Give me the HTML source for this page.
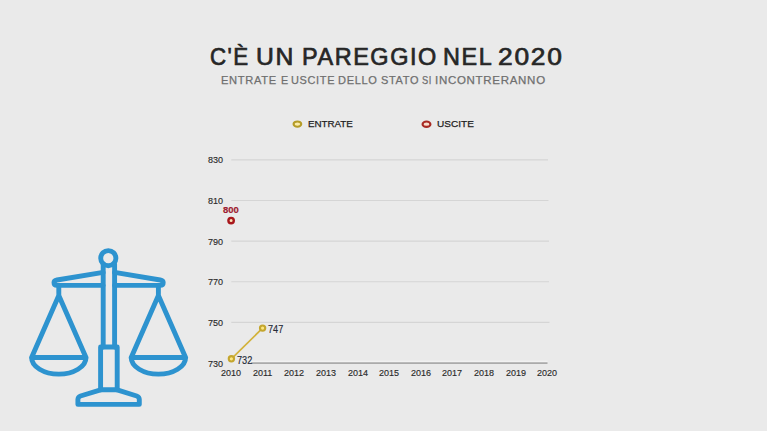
<!DOCTYPE html>
<html><head><meta charset="utf-8">
<style>
html,body{margin:0;padding:0;}
body{width:767px;height:431px;overflow:hidden;background:#eaeaea;position:relative;font-family:"Liberation Sans",sans-serif;}
.t{position:absolute;white-space:nowrap;line-height:1;transform-origin:0 0;}
svg{position:absolute;left:0;top:0;}
</style></head><body>
<svg width="767" height="431" viewBox="0 0 767 431">
  <g stroke="#d5d5d5" stroke-width="1.15">
    <line x1="231.3" y1="159.9" x2="548" y2="159.9"/>
    <line x1="231.3" y1="200.5" x2="548.5" y2="200.5"/>
    <line x1="231.3" y1="241.1" x2="549" y2="241.1"/>
    <line x1="231.3" y1="281.7" x2="549" y2="281.7"/>
    <line x1="231.3" y1="322.4" x2="549.5" y2="322.4"/>
  </g>
  <line x1="251" y1="361.2" x2="547.5" y2="361.2" stroke="#f5f5f5" stroke-width="1"/>
  <line x1="251" y1="363.1" x2="547.5" y2="363.1" stroke="#ababab" stroke-width="1.7"/>
  <line x1="231.4" y1="358.8" x2="262.6" y2="328.1" stroke="#d2b23a" stroke-width="1.7"/>
  <circle cx="231.4" cy="358.8" r="2.65" fill="#fce680" stroke="#c4a62e" stroke-width="2.1"/>
  <circle cx="262.6" cy="328.1" r="2.65" fill="#fce680" stroke="#c4a62e" stroke-width="2.1"/>
  <circle cx="231.1" cy="220.6" r="2.7" fill="#f8e4b8" stroke="#a8171c" stroke-width="2.4"/>
  <ellipse cx="297.4" cy="124.1" rx="3.85" ry="2.65" fill="#fbeca8" stroke="#b59c28" stroke-width="2.1"/>
  <ellipse cx="426.5" cy="124.2" rx="3.95" ry="2.65" fill="#f7dccb" stroke="#a82a24" stroke-width="2.1"/>
  <g fill="none" stroke="#2d93cf" stroke-width="4.9" stroke-linejoin="round" stroke-linecap="round">
    <circle cx="108.3" cy="258.2" r="7.6"/>
    <path d="M103.2,264 V347 M114.6,264 V347"/>
    <path d="M100.6,347 H117.2 V389.8 H100.6 Z"/>
    <path d="M100.6,389.8 L80.5,396 Q77.9,396.9 77.9,399.6 V404.4 H139.3 V399.6 Q139.3,396.9 136.7,396 L117.2,389.8"/>
    <path d="M103.1,272.3 L57,280 Q54,280.6 54,282.6 Q54,285.4 57,285.4 H103.1"/>
    <path d="M114.6,272.3 L160.2,280 Q163.2,280.6 163.2,282.6 Q163.2,285.4 160.2,285.4 H114.6"/>
    <path d="M58.8,285.4 V295.5 L31.6,357.5 M58.8,295.5 L86,357.5 M31.6,357.5 H86 M31.6,357.5 A27.2 16.6 0 0 0 86,357.5"/>
    <path d="M158.4,285.4 V295.5 L131.2,357.5 M158.4,295.5 L185.6,357.5 M131.2,357.5 H185.6 M131.2,357.5 A27.2 16.6 0 0 0 185.6,357.5"/>
  </g>
</svg>
<div class="t" style="left:209.67px;top:44.80px;transform:scaleX(0.9300);font-size:24px;letter-spacing:1.6px;-webkit-text-stroke:0.7px #262626;color:#262626">C'È</div>
<div class="t" style="left:256.17px;top:44.80px;transform:scaleX(1.0294);font-size:24px;letter-spacing:1.6px;-webkit-text-stroke:0.7px #262626;color:#262626">UN</div>
<div class="t" style="left:301.65px;top:44.80px;transform:scaleX(0.9770);font-size:24px;letter-spacing:1.6px;-webkit-text-stroke:0.7px #262626;color:#262626">PAREGGIO</div>
<div class="t" style="left:443.05px;top:44.80px;transform:scaleX(0.9750);font-size:24px;letter-spacing:1.6px;-webkit-text-stroke:0.7px #262626;color:#262626">NEL</div>
<div class="t" style="left:498.30px;top:44.80px;transform:scaleX(1.0982);font-size:24px;letter-spacing:1.6px;-webkit-text-stroke:0.7px #262626;color:#262626">2020</div>
<div class="t" style="left:221.23px;top:74.70px;transform:scaleX(0.9679);font-size:11.5px;letter-spacing:0.7px;-webkit-text-stroke:0.25px #6f6f6f;color:#6f6f6f">ENTRATE</div>
<div class="t" style="left:280.87px;top:74.70px;transform:scaleX(0.9333);font-size:11.5px;letter-spacing:0.7px;-webkit-text-stroke:0.25px #6f6f6f;color:#6f6f6f">E</div>
<div class="t" style="left:291.05px;top:74.70px;transform:scaleX(0.9523);font-size:11.5px;letter-spacing:0.7px;-webkit-text-stroke:0.25px #6f6f6f;color:#6f6f6f">USCITE</div>
<div class="t" style="left:337.74px;top:74.70px;transform:scaleX(0.9615);font-size:11.5px;letter-spacing:0.7px;-webkit-text-stroke:0.25px #6f6f6f;color:#6f6f6f">DELLO</div>
<div class="t" style="left:381.00px;top:74.70px;transform:scaleX(0.9538);font-size:11.5px;letter-spacing:0.7px;-webkit-text-stroke:0.25px #6f6f6f;color:#6f6f6f">STATO</div>
<div class="t" style="left:421.90px;top:74.70px;transform:scaleX(0.8091);font-size:11.5px;letter-spacing:0.7px;-webkit-text-stroke:0.25px #6f6f6f;color:#6f6f6f">SI</div>
<div class="t" style="left:435.00px;top:74.70px;transform:scaleX(1.0009);font-size:11.5px;letter-spacing:0.7px;-webkit-text-stroke:0.25px #6f6f6f;color:#6f6f6f">INCONTRERANNO</div>
<div class="t" style="left:307.90px;top:118.60px;transform:scaleX(1.0000);font-size:9.8px;-webkit-text-stroke:0.25px #1e1e1e;color:#1e1e1e">ENTRATE</div>
<div class="t" style="left:436.67px;top:118.60px;transform:scaleX(1.0257);font-size:9.8px;-webkit-text-stroke:0.25px #1e1e1e;color:#1e1e1e">USCITE</div>
<div class="t" style="left:223.30px;top:205.20px;transform:scaleX(0.9875);font-size:9.6px;font-weight:bold;-webkit-text-stroke:0.2px #9e1a30;color:#9e1a30">800</div>
<div class="t" style="left:268.30px;top:325.30px;transform:scaleX(0.9125);font-size:10px;-webkit-text-stroke:0.15px #262b38;color:#262b38">747</div>
<div class="t" style="left:236.70px;top:355.60px;transform:scaleX(0.9188);font-size:10px;-webkit-text-stroke:0.15px #262b38;color:#262b38">732</div>
<div class="t" style="left:208.44px;top:155.30px;transform:scaleX(0.9600);font-size:9.4px;-webkit-text-stroke:0.15px #2a2a2a;color:#2a2a2a">830</div>
<div class="t" style="left:208.44px;top:195.90px;transform:scaleX(0.9600);font-size:9.4px;-webkit-text-stroke:0.15px #2a2a2a;color:#2a2a2a">810</div>
<div class="t" style="left:208.44px;top:236.50px;transform:scaleX(0.9600);font-size:9.4px;-webkit-text-stroke:0.15px #2a2a2a;color:#2a2a2a">790</div>
<div class="t" style="left:208.44px;top:277.10px;transform:scaleX(0.9600);font-size:9.4px;-webkit-text-stroke:0.15px #2a2a2a;color:#2a2a2a">770</div>
<div class="t" style="left:208.44px;top:317.80px;transform:scaleX(0.9600);font-size:9.4px;-webkit-text-stroke:0.15px #2a2a2a;color:#2a2a2a">750</div>
<div class="t" style="left:208.44px;top:358.60px;transform:scaleX(0.9600);font-size:9.4px;-webkit-text-stroke:0.15px #2a2a2a;color:#2a2a2a">730</div>
<div class="t" style="left:221.22px;top:367.60px;transform:scaleX(0.9600);font-size:9.4px;-webkit-text-stroke:0.15px #2a2a2a;color:#2a2a2a">2010</div>
<div class="t" style="left:253.30px;top:367.60px;transform:scaleX(0.9600);font-size:9.4px;-webkit-text-stroke:0.15px #2a2a2a;color:#2a2a2a">2011</div>
<div class="t" style="left:284.42px;top:367.60px;transform:scaleX(0.9600);font-size:9.4px;-webkit-text-stroke:0.15px #2a2a2a;color:#2a2a2a">2012</div>
<div class="t" style="left:316.02px;top:367.60px;transform:scaleX(0.9600);font-size:9.4px;-webkit-text-stroke:0.15px #2a2a2a;color:#2a2a2a">2013</div>
<div class="t" style="left:347.62px;top:367.60px;transform:scaleX(0.9600);font-size:9.4px;-webkit-text-stroke:0.15px #2a2a2a;color:#2a2a2a">2014</div>
<div class="t" style="left:379.22px;top:367.60px;transform:scaleX(0.9600);font-size:9.4px;-webkit-text-stroke:0.15px #2a2a2a;color:#2a2a2a">2015</div>
<div class="t" style="left:410.82px;top:367.60px;transform:scaleX(0.9600);font-size:9.4px;-webkit-text-stroke:0.15px #2a2a2a;color:#2a2a2a">2016</div>
<div class="t" style="left:442.42px;top:367.60px;transform:scaleX(0.9600);font-size:9.4px;-webkit-text-stroke:0.15px #2a2a2a;color:#2a2a2a">2017</div>
<div class="t" style="left:474.02px;top:367.60px;transform:scaleX(0.9600);font-size:9.4px;-webkit-text-stroke:0.15px #2a2a2a;color:#2a2a2a">2018</div>
<div class="t" style="left:505.62px;top:367.60px;transform:scaleX(0.9600);font-size:9.4px;-webkit-text-stroke:0.15px #2a2a2a;color:#2a2a2a">2019</div>
<div class="t" style="left:537.22px;top:367.60px;transform:scaleX(0.9600);font-size:9.4px;-webkit-text-stroke:0.15px #2a2a2a;color:#2a2a2a">2020</div>
</body></html>
